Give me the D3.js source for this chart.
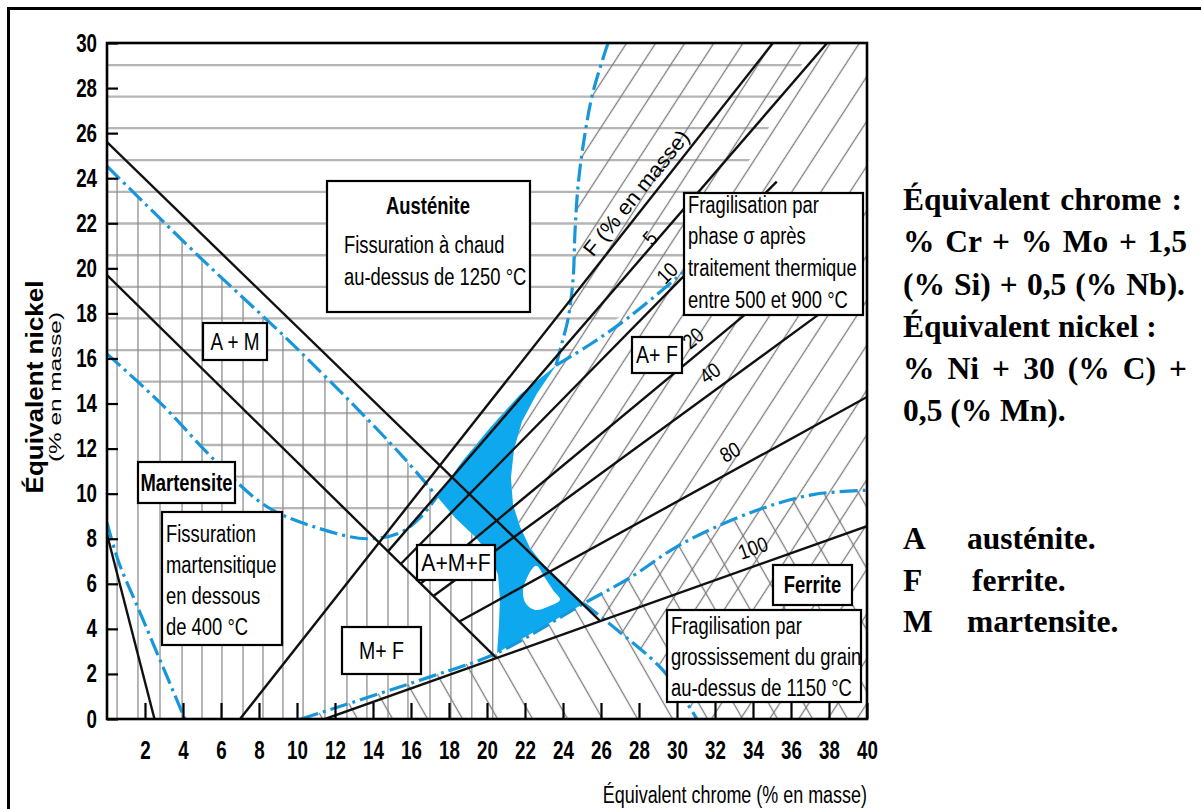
<!DOCTYPE html>
<html><head><meta charset="utf-8">
<script src="https://cdn.jsdelivr.net/npm/d3@7"></script>
<style>
html,body{margin:0;padding:0;background:#fff;}
svg{display:block;}
</style></head><body>
<svg id="chart" width="1201" height="809"></svg>
<script>
// ---------- Axis ticks ----------
const xTicks = d3.range(2, 41, 2);
const yTicks = d3.range(0, 31, 2);

// ---------- Phase boundaries (Cr eq %, Ni eq %) ----------
const austeniteLine = [[0, 25.6], [25.96, 4.34]];
const martensiteLine = [[0, 19.7], [20.5, 2.705]];
const martensiteLowLine = [[0, 8.2], [2.5, 0]];

// ---------- Iso-ferrite lines ----------
const ferriteLevels = [0, 5, 10, 20, 40, 80, 100];
const ferriteLines = [
  [[7, 0], [35.05, 30]],
  [[14.79, 7.44], [37.9, 30]],
  [[15.46, 6.88], [35.25, 23.85]],
  [[16.51, 6.01], [33.8, 18.1]],
  [[17.18, 5.46], [37.7, 18.1]],
  [[18.55, 4.33], [40, 14.29]],
  [[11.48, 0], [40, 8.56]]
];

// ---------- Problem-zone boundaries ----------
const hotCrackCurve = [[0, 24.53], [4.89, 20.49], [10.16, 16.31], [15.42, 11.78], [17.37, 9.87]];
const martCrackCurve = [[0, 16.2], [2.79, 14.04], [5.79, 11.38], [8.42, 9.42], [11.05, 8.49], [13.68, 8.0], [15.42, 8.27], [16.47, 8.93], [17.37, 9.87]];
const martCrackLowCurve = [[0, 8.71], [0.6, 7.0], [1.7, 4.8], [2.9, 2.4], [4.1, 0]];
const sigmaCurveUpper = [[26.37, 30], [25.58, 27.82], [25.11, 25.73], [24.79, 23.64], [24.63, 21.6], [24.53, 19.51], [24.26, 17.73], [23.95, 16.71], [23.63, 15.69]];
const sigmaCurveRight = [[23.63, 15.69], [25.42, 16.62], [27.53, 17.87], [30.32, 19.82]];
const grainCurve = [[10.21, 0], [17.0, 1.87], [20.53, 2.93], [25.1, 5.13], [27.53, 6.27], [30.16, 7.73], [34.0, 9.2], [37.16, 9.96], [40, 10.15]];
const grainCurveLow = [[25.1, 5.13], [26.84, 3.96], [29.1, 2.31], [30.16, 1.16], [31.05, 0]];
const hotCrackEdge = [[37.3, 30], [36.8, 29.3], [35.6, 27.9], [35.0, 26.5], [34.1, 25.1], [33.3, 24.3], [30.32, 23.0], [30.32, 19.4], [28.05, 18.4], [25.95, 17.29], [24.37, 16.31]];

// ---------- Safe zone ----------
const safeRightEdge = [[23.63, 15.69], [22.63, 14.44], [21.84, 13.2], [21.42, 11.96], [21.26, 10.71], [21.37, 9.51], [21.74, 8.53], [22.26, 7.6], [22.84, 6.98], [25.1, 5.13]];
const safeUpperEdge = [[17.37, 9.87], [18.68, 11.42], [20.16, 12.93], [21.74, 14.4], [23.63, 15.69]];
const safeLeftEdge = [[17.37, 9.87], [18.32, 8.93], [19.37, 8.09], [20.16, 7.29], [20.58, 6.4], [20.68, 5.29], [20.63, 4.18], [20.53, 2.93]];
const safeNotch = [[22.58, 6.8], [22.11, 6.27], [21.89, 5.64], [22.05, 5.11], [22.53, 4.84], [23.21, 4.98], [23.84, 5.29], [23.47, 5.73], [23.05, 6.27]];

// ---------- Hatch grid positions ----------
const hLineValues = [29.02, 27.62, 26.22, 24.8, 23.39, 21.99, 20.58, 19.18, 17.78, 16.37, 14.97, 13.57, 12.16, 10.76, 9.36, 7.95];
const vLineValues = [0.53, 1.63, 2.79, 3.95, 5.0, 6.05, 7.16, 8.21, 9.26, 10.32, 11.47, 12.63, 13.68, 14.79, 15.84, 17.0, 18.1, 19.2, 20.3];

// ---------- Scales ----------
const svg = d3.select("#chart");
const x = d3.scaleLinear().domain([0, 40]).range([107, 867]);
const y = d3.scaleLinear().domain([0, 30]).range([719, 43]);
const line = d3.line().x(d => x(d[0])).y(d => y(d[1]));
const smooth = d3.line().x(d => x(d[0])).y(d => y(d[1])).curve(d3.curveCatmullRom.alpha(0.5));
const smoothClosed = d3.line().x(d => x(d[0])).y(d => y(d[1])).curve(d3.curveCatmullRomClosed.alpha(0.5));
const region = pts => line(pts) + "Z";

const SANS = "'Liberation Sans', Arial, Helvetica, sans-serif";
const SERIF = "'Liberation Serif', 'Times New Roman', serif";
const BLUE = "#1896da";
const FILL = "#0ea8ee";

function condense(sel, k) {
  sel.each(function () {
    const L = this.getComputedTextLength();
    if (L > 0) d3.select(this).attr("textLength", L * k).attr("lengthAdjust", "spacingAndGlyphs");
  });
}

// ---------- Region outlines ----------
const hRegion = [[0, 30], ...hotCrackEdge, ...safeUpperEdge.slice().reverse(), ...martCrackCurve.slice().reverse().slice(1)];
const vRegion = [...hotCrackCurve, ...safeLeftEdge.slice(1), [21.2, 0], [0, 0]];
const sigmaRegion = [...sigmaCurveUpper, ...safeRightEdge.slice(1), ...grainCurveLow.slice(1), [40, 0], [40, 30]];
const grainRegion = [...grainCurve, [40, 0]];
const safeOuter = [...safeRightEdge, ...safeLeftEdge.slice().reverse(), ...safeUpperEdge.slice(1, -1)];

// ---------- Defs ----------
const defs = svg.append("defs");
defs.append("clipPath").attr("id", "clipPlot").append("rect")
  .attr("x", x(0)).attr("y", y(30)).attr("width", x(40) - x(0)).attr("height", y(0) - y(30));
defs.append("clipPath").attr("id", "clipH").append("path").attr("d", region(hRegion));
defs.append("clipPath").attr("id", "clipV").append("path").attr("d", region(vRegion));

function hatchPattern(id, w, angle) {
  const p = defs.append("pattern").attr("id", id).attr("patternUnits", "userSpaceOnUse")
    .attr("width", w).attr("height", 20).attr("patternTransform", `rotate(${angle})`);
  p.append("line").attr("x1", w / 2).attr("x2", w / 2).attr("y1", -1).attr("y2", 21)
    .attr("stroke", "#7c7c7c").attr("stroke-width", 1.3);
}
hatchPattern("hatchSigma", 24.4, 33);
hatchPattern("hatchGrain", 30.4, -29.7);

// ---------- Outer frame ----------
svg.append("rect").attr("x", 8.5).attr("y", 8.5).attr("width", 1210).attr("height", 820)
  .attr("fill", "none").attr("stroke", "#000").attr("stroke-width", 3);

const plot = svg.append("g").attr("clip-path", "url(#clipPlot)");

// Hot-cracking zone: horizontal hatch
plot.append("g").attr("clip-path", "url(#clipH)").selectAll("line").data(hLineValues).join("line")
  .attr("x1", x(0)).attr("x2", x(40)).attr("y1", d => y(d)).attr("y2", d => y(d))
  .attr("stroke", "#b5b5b5").attr("stroke-width", 2.3);

// Martensite-cracking zone: vertical hatch
plot.append("g").attr("clip-path", "url(#clipV)").selectAll("line").data(vLineValues).join("line")
  .attr("x1", d => x(d)).attr("x2", d => x(d)).attr("y1", y(30)).attr("y2", y(0))
  .attr("stroke", "#8f8f8f").attr("stroke-width", 1.3);

// Sigma and grain-growth zones: diagonal hatch
plot.append("path").attr("d", region(sigmaRegion)).attr("fill", "url(#hatchSigma)");
plot.append("path").attr("d", region(grainRegion)).attr("fill", "url(#hatchGrain)");

// Safe zone (with its unshaded notch)
plot.append("path").attr("d", region(safeOuter) + smoothClosed(safeNotch))
  .attr("fill", FILL).attr("fill-rule", "evenodd");

// Problem-zone boundaries (dash-dot)
[hotCrackCurve, martCrackCurve, martCrackLowCurve, sigmaCurveUpper, sigmaCurveRight, grainCurve, grainCurveLow]
  .forEach(c => plot.append("path").attr("d", smooth(c)).attr("fill", "none")
    .attr("stroke", BLUE).attr("stroke-width", 3.2).attr("stroke-dasharray", "18,5,3,5"));

// Phase boundaries and iso-ferrite lines
[austeniteLine, martensiteLine, martensiteLowLine, ...ferriteLines].forEach(l =>
  plot.append("path").attr("d", line(l)).attr("fill", "none").attr("stroke", "#111").attr("stroke-width", 2.4));

// ---------- Axes ----------
const gx = svg.append("g").attr("transform", `translate(0,${y(0)})`)
  .call(d3.axisBottom(x).tickValues(xTicks).tickSizeInner(-16).tickSizeOuter(0).tickPadding(22).tickFormat(d3.format("d")));
gx.select(".domain").remove();
gx.selectAll("line").attr("stroke", "#000").attr("stroke-width", 2.2);
gx.selectAll("text").attr("font-family", SANS).attr("font-size", 25).attr("font-weight", "bold").attr("fill", "#000");
condense(gx.selectAll("text"), 0.75);

const gy = svg.append("g").attr("transform", `translate(${x(0)},0)`)
  .call(d3.axisLeft(y).tickValues(yTicks).tickSizeInner(-11).tickSizeOuter(0).tickPadding(10).tickFormat(d3.format("d")));
gy.select(".domain").remove();
gy.selectAll("line").attr("stroke", "#000").attr("stroke-width", 2.2);
gy.selectAll("text").attr("font-family", SANS).attr("font-size", 25).attr("font-weight", "bold").attr("fill", "#000");
condense(gy.selectAll("text"), 0.75);

svg.append("rect").attr("x", x(0)).attr("y", y(30)).attr("width", x(40) - x(0)).attr("height", y(0) - y(30))
  .attr("fill", "none").attr("stroke", "#000").attr("stroke-width", 2.6);

// Axis titles
const xt = svg.append("text").attr("x", 867).attr("y", 803).attr("text-anchor", "end")
  .attr("font-family", SANS).attr("font-size", 23).text("Équivalent chrome (% en masse)");
condense(xt, 0.78);
svg.append("text").attr("transform", "translate(43,387) rotate(-90)").attr("text-anchor", "middle")
  .attr("font-family", SANS).attr("font-size", 23).attr("font-weight", "bold")
  .attr("textLength", 213).attr("lengthAdjust", "spacingAndGlyphs").text("Équivalent nickel");
svg.append("text").attr("transform", "translate(61,387) rotate(-90)").attr("text-anchor", "middle")
  .attr("font-family", SANS).attr("font-size", 16)
  .attr("textLength", 150).attr("lengthAdjust", "spacingAndGlyphs").text("(% en masse)");

// ---------- Zone label boxes ----------
const labelBoxes = [
  {x: 327, y: 181, w: 203, h: 131},
  {x: 684, y: 193, w: 179, h: 122},
  {x: 203, y: 323, w: 64, h: 37},
  {x: 138, y: 462, w: 97, h: 41},
  {x: 162, y: 512, w: 120, h: 133},
  {x: 417, y: 545, w: 78, h: 35},
  {x: 632, y: 337, w: 50, h: 36},
  {x: 342, y: 627, w: 79, h: 47},
  {x: 773, y: 565, w: 79, h: 40},
  {x: 667, y: 610, w: 194, h: 92}
];
svg.append("g").selectAll("rect").data(labelBoxes).join("rect")
  .attr("x", d => d.x).attr("y", d => d.y).attr("width", d => d.w).attr("height", d => d.h)
  .attr("fill", "#fff").attr("stroke", "#000").attr("stroke-width", 2.2);

const labelTexts = [
  {t: "Austénite", x: 428, y: 214, a: "middle", b: true},
  {t: "Fissuration à chaud", x: 344, y: 253},
  {t: "au-dessus de 1250 °C", x: 344, y: 285},
  {t: "Fragilisation par", x: 688, y: 213},
  {t: "phase σ après", x: 688, y: 244},
  {t: "traitement thermique", x: 688, y: 276},
  {t: "entre 500 et 900 °C", x: 688, y: 308},
  {t: "A + M", x: 235, y: 350, a: "middle", k: 0.82},
  {t: "Martensite", x: 186.5, y: 491, a: "middle", b: true},
  {t: "Fissuration", x: 166, y: 542},
  {t: "martensitique", x: 166, y: 573},
  {t: "en dessous", x: 166, y: 604},
  {t: "de 400 °C", x: 166, y: 635},
  {t: "A+M+F", x: 456, y: 571, a: "middle", k: 0.92},
  {t: "A+ F", x: 657, y: 363, a: "middle", k: 0.85},
  {t: "M+ F", x: 381.5, y: 659, a: "middle", k: 0.85},
  {t: "Ferrite", x: 812.5, y: 593, a: "middle", b: true},
  {t: "Fragilisation par", x: 671, y: 634},
  {t: "grossissement du grain", x: 671, y: 665},
  {t: "au-dessus de 1150 °C", x: 671, y: 696}
];
svg.append("g").selectAll("text").data(labelTexts).join("text")
  .attr("x", d => d.x).attr("y", d => d.y).attr("text-anchor", d => d.a || "start")
  .attr("font-family", SANS).attr("font-size", 23).attr("font-weight", d => d.b ? "bold" : "normal")
  .text(d => d.t)
  .each(function (d) { condense(d3.select(this), d.k || 0.8); });

// ---------- Iso-ferrite labels ----------
const isoLabelPos = [
  {x: 636, y: 193, r: -51, len: 155},
  {x: 650, y: 238, r: -49},
  {x: 667, y: 273, r: -45},
  {x: 693, y: 338, r: -40},
  {x: 710, y: 373, r: -36},
  {x: 730, y: 452, r: -29},
  {x: 753, y: 548, r: -20}
];
svg.append("g").selectAll("text").data(ferriteLevels).join("text")
  .attr("transform", (d, i) => `translate(${isoLabelPos[i].x},${isoLabelPos[i].y}) rotate(${isoLabelPos[i].r})`)
  .attr("text-anchor", "middle").attr("dy", "0.35em")
  .attr("font-family", SANS).attr("font-size", 21)
  .text(d => d === 0 ? "F (% en masse)" : String(d))
  .each(function (d, i) {
    if (isoLabelPos[i].len) d3.select(this).attr("textLength", isoLabelPos[i].len).attr("lengthAdjust", "spacingAndGlyphs");
    else condense(d3.select(this), 0.85);
  });

// ---------- Side notes ----------
const noteLines = [
  {t: "Équivalent chrome :", y: 210, end: 1182},
  {t: "% Cr + % Mo + 1,5", y: 252, end: 1187},
  {t: "(% Si) + 0,5 (% Nb).", y: 295, end: 1185},
  {t: "Équivalent nickel :", y: 337},
  {t: "% Ni + 30 (% C) +", y: 379, end: 1187},
  {t: "0,5 (% Mn).", y: 421}
];
svg.append("g").selectAll("text").data(noteLines).join("text")
  .attr("x", 903).attr("y", d => d.y)
  .attr("font-family", SERIF).attr("font-size", 31.5).attr("font-weight", "bold")
  .text(d => d.t)
  .each(function (d) {
    if (!d.end) return;
    const L = this.getComputedTextLength();
    const n = (d.t.match(/ /g) || []).length;
    const extra = d.end - 903 - L;
    if (extra > 0 && n > 0) d3.select(this).style("word-spacing", (extra / n) + "px");
    else if (extra < 0) d3.select(this).attr("textLength", d.end - 903).attr("lengthAdjust", "spacingAndGlyphs");
  });

const legendKeys = ["A", "F", "M"];
const legendNames = ["austénite.", "ferrite.", "martensite."];
const legendLayout = [{y: 549, tx: 967}, {y: 591, tx: 972}, {y: 632, tx: 967}];
const lg = svg.append("g").attr("font-family", SERIF).attr("font-size", 31.5).attr("font-weight", "bold");
legendKeys.forEach((k, i) => {
  lg.append("text").attr("x", 903).attr("y", legendLayout[i].y).text(k);
  lg.append("text").attr("x", legendLayout[i].tx).attr("y", legendLayout[i].y).text(legendNames[i]);
});
</script>
</body></html>
